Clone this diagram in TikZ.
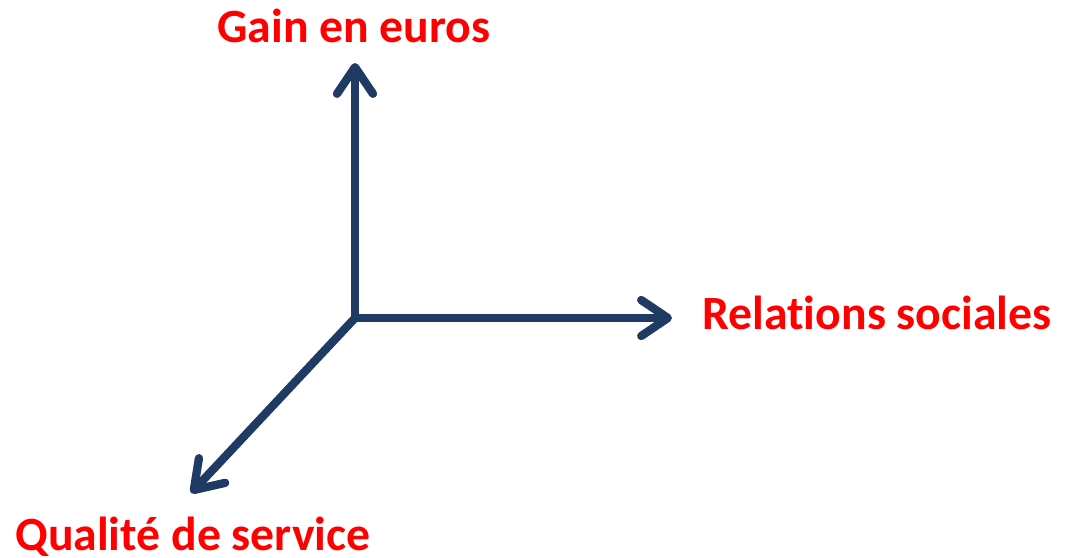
\documentclass[tikz,border=0pt]{standalone}
\usepackage{fontspec}
\setmainfont{Carlito}[Ligatures=CommonOff]
\usetikzlibrary{arrows.meta}

\definecolor{axisblue}{RGB}{31,58,99}

\tikzset{
  axis/.style={line width=6.2pt,color=axisblue,line cap=round,line join=round,
    -{Straight Barb[round,length=20pt,width=27pt]}},
  axisshadow/.style={axis,color=black,opacity=0.12,shift={(2,3)}},
  label/.style={text=red,font=\bfseries\fontsize{35.8}{40}\selectfont,inner sep=0pt}
}

\begin{document}
\begin{tikzpicture}[x=0.75pt,y=-0.75pt]
\useasboundingbox (0,0) rectangle (1066,557);

% origin and axis ends
\coordinate (O) at (355,318);
\coordinate (gainend) at (355,63);
\coordinate (relend) at (672,318);
\coordinate (qualend) at (191,493);

% soft shadow under the axes
\draw[axisshadow] (O) -- (gainend);
\draw[axisshadow] (O) -- (relend);
\draw[axisshadow] (O) -- (qualend);

\draw[axis] (O) -- (gainend);
\draw[axis] (O) -- (relend);
\draw[axis] (O) -- (qualend);

\node[label,anchor=base] (gain) at (354,42) {Gain en euros};
\node[label,anchor=base west] (rel) at (702,329) {Relations sociales};
\node[label,anchor=base west] (qual) at (15,550) {Qualité de service};
\end{tikzpicture}
\end{document}
